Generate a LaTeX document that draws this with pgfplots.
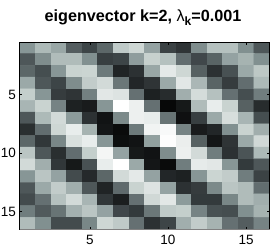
\documentclass[border=0pt]{standalone}
\usepackage{fontspec}
\setmainfont{Liberation Sans}
\usepackage{pgfplots}
\usepackage{pgfplotstable}
\pgfplotsset{compat=1.18}
\pgfplotstableread{
x y z
1 1 50
2 1 65
3 1 57
4 1 32
5 1 24
6 1 35
7 1 72
8 1 78
9 1 55
10 1 23
11 1 18
12 1 47
13 1 68
14 1 68
15 1 48
16 1 30
1 2 30
2 2 47
3 2 66
4 2 66
5 2 48
6 2 22
7 2 24
8 2 53
9 2 75
10 2 68
11 2 37
12 2 25
13 2 34
14 2 55
15 2 62
16 2 48
1 3 35
2 3 27
3 3 50
4 3 76
5 3 77
6 3 41
7 3 12
8 3 17
9 3 57
10 3 88
11 3 78
12 3 33
13 3 17
14 3 28
15 3 58
16 3 71
1 4 58
2 4 30
3 4 24
4 4 47
5 4 73
6 4 80
7 4 40
8 4 13
9 4 18
10 4 58
11 4 87
12 4 64
13 4 34
14 4 21
15 4 37
16 4 65
1 5 74
2 5 50
3 5 21
4 5 18
5 5 43
6 5 87
7 5 85
8 5 38
9 5 11
10 5 15
11 5 60
12 5 81
13 5 68
14 5 38
15 5 27
16 5 42
1 6 63
2 6 76
3 6 44
4 6 11
5 6 9
6 6 50
7 6 100
8 6 92
9 6 38
10 6 2
11 6 8
12 6 66
13 6 90
14 6 76
15 6 33
16 6 15
1 7 30
2 7 65
3 7 80
4 7 52
5 7 17
6 7 6
7 7 46
8 7 92
9 7 90
10 7 39
11 7 5
12 7 22
13 7 58
14 7 82
15 7 63
16 7 27
1 8 16
2 8 37
3 8 78
4 8 90
5 8 62
6 8 7
7 8 3
8 8 41
9 8 94
10 8 97
11 8 44
12 8 9
13 8 13
14 8 48
15 8 76
16 8 60
1 9 35
2 9 19
3 9 45
4 9 83
5 9 90
6 9 50
7 9 4
8 9 6
9 9 54
10 9 99
11 9 91
12 9 33
13 9 7
14 9 18
15 9 58
16 9 79
1 10 70
2 10 30
3 10 16
4 10 37
5 10 74
6 10 95
7 10 55
8 10 8
9 10 6
10 10 47
11 10 92
12 10 80
13 10 42
14 10 17
15 10 29
16 10 65
1 11 80
2 11 60
3 11 19
4 11 8
5 11 28
6 11 90
7 11 100
8 11 58
9 11 7
10 11 3
11 11 42
12 11 89
13 11 87
14 11 50
15 11 20
16 11 30
1 12 50
2 12 70
3 12 55
4 12 26
5 12 14
6 12 35
7 12 80
8 12 88
9 12 55
10 12 13
11 12 11
12 12 50
13 12 77
14 12 73
15 12 42
16 12 23
1 13 30
2 13 58
3 13 73
4 13 60
5 13 30
6 13 12
7 13 36
8 13 76
9 13 85
10 13 55
11 13 17
12 13 21
13 13 46
14 13 70
15 13 66
16 13 37
1 14 26
2 14 38
3 14 68
4 14 80
5 14 63
6 14 19
7 14 10
8 14 38
9 14 79
10 14 87
11 14 52
12 14 20
13 14 20
14 14 45
15 14 66
16 14 60
1 15 42
2 15 31
3 15 39
4 15 61
5 15 70
6 15 55
7 15 25
8 15 20
9 15 40
10 15 72
11 15 74
12 15 44
13 15 28
14 15 27
15 15 48
16 15 62
1 16 66
2 16 48
3 16 26
4 16 26
5 16 45
6 16 78
7 16 72
8 16 38
9 16 17
10 16 24
11 16 60
12 16 73
13 16 62
14 16 38
15 16 32
16 16 44
}\eigdata
\begin{document}
\begin{tikzpicture}[x=1pt,y=1pt]
\path[use as bounding box] (0,0) rectangle (275,247);
\begin{axis}[
  at={(19.5pt,18pt)}, anchor=south west,
  scale only axis, width=250pt, height=187pt,
  y dir=reverse,
  xmin=0.5, xmax=16.5, ymin=0.5, ymax=16.5,
  xtick={5,10,15}, ytick={5,10,15},
  tick style={black, line width=0.4pt},
  major tick length=2.5pt,
  tick align=inside,
  xtick pos=both, ytick pos=both,
  xticklabel pos=bottom, yticklabel pos=left,
  tick label style={font=\fontsize{13.5}{15}\selectfont},
  /pgf/number format/assume math mode=true,
  xticklabel style={yshift=-3pt},
  axis line style={line width=0.5pt},
  axis on top,
  enlargelimits=false,
  point meta min=0, point meta max=100,
  colormap={bonish}{
    rgb=(0.01,0.01,0.01)
    rgb=(0.25,0.28,0.29)
    rgb=(0.53,0.59,0.59)
    rgb=(0.78,0.82,0.81)
    rgb=(1,1,1)
  },
]
\addplot[matrix plot*, mesh/cols=16, mesh/rows=16, point meta=explicit]
  table[x=x, y=y, meta=z] {\eigdata};
\end{axis}
\draw[gray, line width=0.9pt] (19.5,18) -- (269.5,18);
\node[anchor=center, font=\fontsize{16.2}{18}\selectfont\bfseries, inner sep=0pt] at (143,229)
  {eigenvector k=2, {\mdseries λ}\raisebox{-4pt}{\fontsize{12}{14}\selectfont k}=0.001};
\end{tikzpicture}
\end{document}
